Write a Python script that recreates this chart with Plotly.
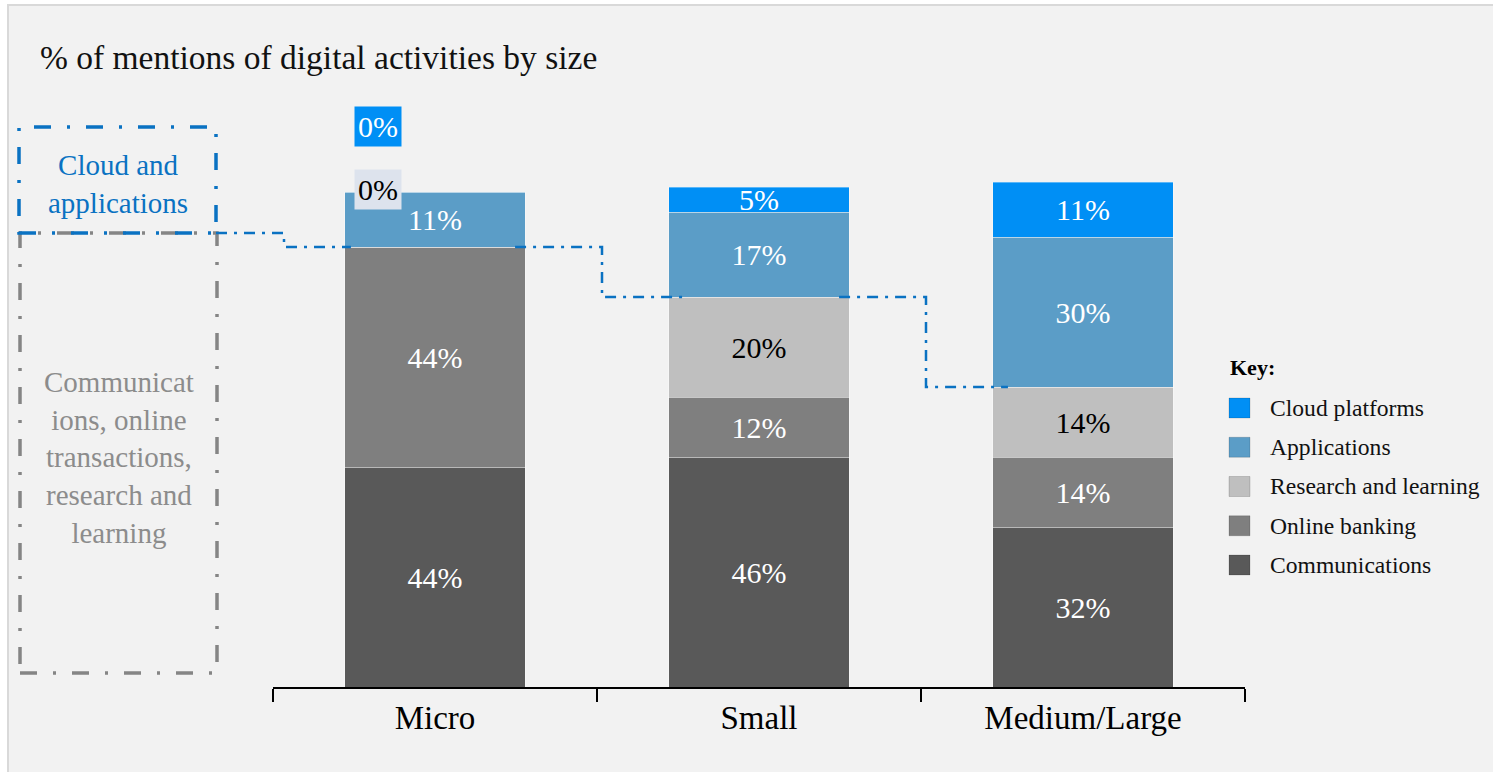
import plotly.graph_objects as go

# ---------------- data ----------------
categories = ["Micro", "Small", "Medium/Large"]
communications = [44, 46, 32]
online_banking = [44, 12, 14]
research_learning = [0, 20, 14]
applications = [11, 17, 30]
cloud_platforms = [0, 5, 11]

series_names = ["Communications", "Online banking", "Research and learning",
                "Applications", "Cloud platforms"]
series_values = [communications, online_banking, research_learning,
                 applications, cloud_platforms]
legend_order = ["Cloud platforms", "Applications", "Research and learning",
                "Online banking", "Communications"]

title_text = "% of mentions of digital activities by size"
key_title = "Key:"
cloud_box_text = "Cloud and<br>applications"
other_box_text = "Communicat<br>ions, online<br>transactions,<br>research and<br>learning"

# ---------------- style ----------------
W, H = 1493, 772
ML, MR, MT, MB = 273, 248, 162, 85
PW, PH = W - ML - MR, H - MT - MB
Y_MAX = 105
FONT = "Liberation Serif"

colors = {
    "Cloud platforms": "#008ff5",
    "Applications": "#5b9dc7",
    "Research and learning": "#bfbfbf",
    "Online banking": "#7f7f7f",
    "Communications": "#595959",
}
text_colors = {
    "Cloud platforms": "#ffffff",
    "Applications": "#ffffff",
    "Research and learning": "#000000",
    "Online banking": "#ffffff",
    "Communications": "#ffffff",
}
zero_label_style = {
    "Cloud platforms": dict(bg="#008ff5", fg="#ffffff", yshift=66),
    "Research and learning": dict(bg="#dde3ed", fg="#000000", yshift=3),
}
BLUE = "#0a72c2"
GREY = "#858585"


def px2x(px):
    return (px - ML) / PW


def py2y(py):
    return (H - MB - py) / PH


def val2y(v):
    return v / Y_MAX


def cat2x(c):
    return (c + 0.5) / len(categories)


fig = go.Figure()

for name, vals in zip(series_names, series_values):
    fig.add_trace(go.Bar(
        x=categories, y=vals, name=name,
        marker=dict(color=colors[name], line=dict(color="rgba(255,255,255,0.35)", width=1)),
        text=[f"{v}%" if v > 0 else "" for v in vals],
        textposition="inside", insidetextanchor="middle",
        textfont=dict(family=FONT, size=30, color=text_colors[name]),
        showlegend=False, hoverinfo="skip",
    ))

shapes = []
annotations = []

# page background / border
shapes.append(dict(type="rect", xref="paper", yref="paper", layer="below",
                   x0=px2x(-5), x1=px2x(W + 5), y0=py2y(0), y1=py2y(4),
                   fillcolor="#ffffff", line=dict(width=0)))
shapes.append(dict(type="rect", xref="paper", yref="paper", layer="below",
                   x0=px2x(-5), x1=px2x(7), y0=py2y(H + 5), y1=py2y(0),
                   fillcolor="#ffffff", line=dict(width=0)))
shapes.append(dict(type="line", xref="paper", yref="paper", layer="below",
                   x0=px2x(7), x1=px2x(W + 5), y0=py2y(5), y1=py2y(5),
                   line=dict(color="#d9d9d9", width=2)))
shapes.append(dict(type="line", xref="paper", yref="paper", layer="below",
                   x0=px2x(8), x1=px2x(8), y0=py2y(5), y1=py2y(H + 5),
                   line=dict(color="#d9d9d9", width=2)))

# zero-value labels
totals = [sum(s[i] for s in series_values) for i in range(len(categories))]
for ci, cat in enumerate(categories):
    for name, vals in zip(series_names, series_values):
        if vals[ci] == 0 and name in zero_label_style:
            st = zero_label_style[name]
            annotations.append(dict(
                x=cat, y=totals[ci], xref="x", yref="y", xshift=-57, yshift=st["yshift"],
                text=f"{vals[ci]}%", showarrow=False, bgcolor=st["bg"], borderpad=3,
                yanchor="middle", xanchor="center",
                font=dict(family=FONT, size=30, color=st["fg"])))

# left grouping boxes
BOX_L, BOX_R = 19, 216
BOX_TOP, BOX_MID, BOX_BOT = 127, 233, 673
shapes.append(dict(type="rect", xref="paper", yref="paper",
                   x0=px2x(BOX_L + 1), x1=px2x(BOX_R + 1), y0=py2y(BOX_BOT), y1=py2y(BOX_MID),
                   line=dict(color=GREY, width=3.5, dash="17px,16px,3px,16px")))
shapes.append(dict(type="rect", xref="paper", yref="paper",
                   x0=px2x(BOX_L), x1=px2x(BOX_R), y0=py2y(BOX_MID), y1=py2y(BOX_TOP),
                   line=dict(color=BLUE, width=3.5, dash="17px,16px,3px,16px")))
annotations.append(dict(x=px2x((BOX_L + BOX_R) / 2), y=py2y(184), xref="paper", yref="paper",
                        text=cloud_box_text, showarrow=False, align="center",
                        xanchor="center", yanchor="middle",
                        font=dict(family=FONT, size=29, color=BLUE)))
annotations.append(dict(x=px2x((BOX_L + BOX_R) / 2 + 1), y=py2y(457), xref="paper", yref="paper",
                        text=other_box_text, showarrow=False, align="center",
                        xanchor="center", yanchor="middle",
                        font=dict(family=FONT, size=29, color="#8c8c8c")))

# connector (boundary between the two activity groups)
levels = [communications[i] + online_banking[i] + research_learning[i] for i in range(len(categories))]
half_bar = 0.5 * (1 - 0.444) / len(categories)
dx = 1 / PW
conn_dash = "11px,7px,3px,7px"
pts = [(px2x(BOX_R), py2y(BOX_MID)), (cat2x(-0.5) + 11 * dx, py2y(BOX_MID)),
       (cat2x(-0.5) + 11 * dx, val2y(levels[0])), (cat2x(0) - half_bar + 6 * dx, val2y(levels[0]))]
segs = [pts]
for i in range(len(categories) - 1):
    xs = cat2x(i) + half_bar - 10 * dx
    xstep = cat2x(i + 0.5) + 5 * dx
    xe = cat2x(i + 1) - half_bar + 15 * dx
    segs.append([(xs, val2y(levels[i])), (xstep, val2y(levels[i])),
                 (xstep, val2y(levels[i + 1])), (xe, val2y(levels[i + 1]))])
for seg in segs:
    path = "M " + " L ".join(f"{x:.5f},{y:.5f}" for x, y in seg)
    shapes.append(dict(type="path", xref="paper", yref="paper", path=path,
                       line=dict(color=BLUE, width=2.5, dash=conn_dash)))

# manual key
annotations.append(dict(x=px2x(1228), y=py2y(367), xref="paper", yref="paper",
                        text=f"<b>{key_title}</b>", showarrow=False,
                        xanchor="left", yanchor="middle",
                        font=dict(family=FONT, size=22, color="#000000")))
for i, name in enumerate(legend_order):
    cy = 408 + i * 39.25
    shapes.append(dict(type="rect", xref="paper", yref="paper",
                       x0=px2x(1229), x1=px2x(1250), y0=py2y(cy + 10), y1=py2y(cy - 10),
                       fillcolor=colors[name], line=dict(color="rgba(0,0,0,0.15)", width=1)))
    annotations.append(dict(x=px2x(1268), y=py2y(cy), xref="paper", yref="paper",
                            text=name, showarrow=False, xanchor="left", yanchor="middle",
                            font=dict(family=FONT, size=23.6, color="#111111")))

fig.update_layout(
    width=W, height=H,
    margin=dict(l=ML, r=MR, t=MT, b=MB),
    paper_bgcolor="#f2f2f2", plot_bgcolor="#f2f2f2",
    barmode="stack", bargap=0.444,
    uniformtext=dict(mode="show", minsize=30),
    title=dict(text=title_text, xref="container", yref="container",
               x=40 / W, xanchor="left", y=1 - 57 / H, yanchor="middle",
               font=dict(family=FONT, size=33.5, color="#111111")),
    font=dict(family=FONT),
    xaxis=dict(showline=True, linecolor="#000000", linewidth=2, ticks="outside",
               tickson="boundaries", ticklen=13, tickwidth=1.5, tickcolor="#000000",
               tickfont=dict(family=FONT, size=33, color="#000000"),
               range=[-0.5, len(categories) - 0.5], showgrid=False, zeroline=False, fixedrange=True),
    yaxis=dict(range=[0, Y_MAX], visible=False, showgrid=False, zeroline=False, fixedrange=True),
    shapes=shapes, annotations=annotations,
)

fig.write_html("out.html", config={"displayModeBar": False},
               post_script="document.body.style.margin='0';")
